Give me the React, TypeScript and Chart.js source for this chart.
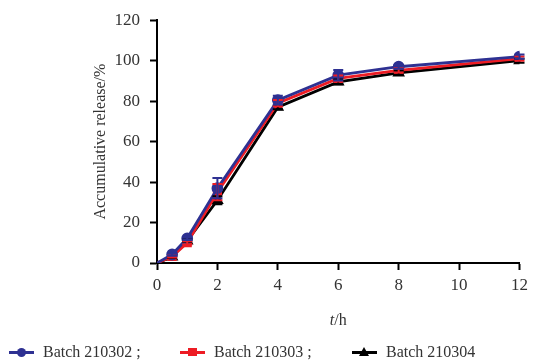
import React, { useEffect, useRef } from "react";
import { Chart, registerables } from "chart.js";

Chart.register(...registerables);

const hours = [0, 0.5, 1, 2, 4, 6, 8, 12];
const batch210302 = [0, 4.2, 12.2, 37, 80.5, 92.8, 97, 102];
const batch210303 = [0, 3.2, 10, 35, 79, 91.2, 95.2, 101];
const batch210304 = [0, 3, 11, 31, 77, 89.5, 94, 100];
const err210302 = [0, 0.6, 0.8, 5, 2.2, 2.6, 1, 1];
const err210303 = [0, 0.5, 0.8, 4, 1.5, 1.5, 1, 1];
const err210304 = [0, 0.5, 0.5, 2, 1, 1.2, 1, 1];
const xTicks = [0, 2, 4, 6, 8, 10, 12];
const yTicks = [0, 20, 40, 60, 80, 100, 120];
const seriesNames = ["Batch 210302 ;", "Batch 210303 ;", "Batch 210304"];

const BLUE = "#2e3192";
const RED = "#ed1c24";
const BLACK = "#000000";
const FONT = '"Liberation Serif", Tinos, "Times New Roman"';

const errorBarPlugin = {
  id: "errorBars",
  afterDatasetsDraw(chart: any) {
    const { ctx } = chart;
    const xs = chart.scales.x;
    const ys = chart.scales.y;
    const errs = [err210302, err210303, err210304];
    for (let d = chart.data.datasets.length - 1; d >= 0; d--) {
      const ds = chart.data.datasets[d];
      const e = errs[d];
      ctx.save();
      ctx.strokeStyle = ds.borderColor;
      ctx.lineWidth = 2;
      ds.data.forEach((p: any, i: number) => {
        if (!e[i]) return;
        const px = xs.getPixelForValue(p.x);
        const top = ys.getPixelForValue(p.y + e[i]);
        const bot = ys.getPixelForValue(p.y - e[i]);
        ctx.beginPath();
        ctx.moveTo(px, top);
        ctx.lineTo(px, bot);
        ctx.moveTo(px - 5, top);
        ctx.lineTo(px + 5, top);
        ctx.moveTo(px - 5, bot);
        ctx.lineTo(px + 5, bot);
        ctx.stroke();
      });
      ctx.restore();
    }
  },
};

const titlesPlugin = {
  id: "titles",
  afterDraw(chart: any) {
    const { ctx, chartArea } = chart;
    const cx = (chartArea.left + chartArea.right) / 2;
    const y = 321;
    ctx.save();
    ctx.fillStyle = "#333";
    ctx.textBaseline = "middle";
    ctx.font = `italic 16px ${FONT}`;
    const tW = ctx.measureText("t").width;
    ctx.font = `16px ${FONT}`;
    const rW = ctx.measureText("/h").width;
    const start = cx - (tW + rW) / 2;
    ctx.font = `italic 16px ${FONT}`;
    ctx.textAlign = "left";
    ctx.fillText("t", start, y);
    ctx.font = `16px ${FONT}`;
    ctx.fillText("/h", start + tW, y);
    ctx.translate(101, (chartArea.top + chartArea.bottom) / 2);
    ctx.rotate(-Math.PI / 2);
    ctx.textAlign = "center";
    ctx.fillText("Accumulative release/%", 0, 0);
    ctx.restore();
  },
};

function makeData(ys: number[]) {
  return hours.map((h, i) => ({ x: h, y: ys[i] }));
}

function Marker({ color, shape }: { color: string; shape: string }) {
  let m: any;
  if (shape === "circle") {
    m = <span style={{ position: "absolute", left: 8, top: 2, width: 9, height: 9, borderRadius: "50%", background: color }} />;
  } else if (shape === "rect") {
    m = <span style={{ position: "absolute", left: 8, top: 2.5, width: 9, height: 8, background: color }} />;
  } else {
    m = (
      <span
        style={{
          position: "absolute",
          left: 7,
          top: 1,
          width: 0,
          height: 0,
          borderLeft: "5.5px solid transparent",
          borderRight: "5.5px solid transparent",
          borderBottom: `9px solid ${color}`,
        }}
      />
    );
  }
  return (
    <span style={{ position: "relative", display: "inline-block", width: 25, height: 13 }}>
      <span style={{ position: "absolute", left: 0, top: 5.5, width: 25, height: 2.5, background: color }} />
      {m}
    </span>
  );
}

export default function App() {
  const ref = useRef<HTMLCanvasElement>(null);
  useEffect(() => {
    document.body.style.margin = "0";
    const common = {
      borderWidth: 2.8,
      pointRadius: [0, 4.5, 4.5, 4.5, 4.5, 4.5, 4.5, 4.5],
      pointHoverRadius: 4.5,
      tension: 0,
    };
    const chart = new Chart(ref.current as HTMLCanvasElement, {
      type: "line",
      data: {
        datasets: [
          { ...common, label: seriesNames[0], data: makeData(batch210302), borderColor: BLUE, backgroundColor: BLUE, pointStyle: "circle" },
          { ...common, label: seriesNames[1], data: makeData(batch210303), borderColor: RED, backgroundColor: RED, pointStyle: "rect" },
          { ...common, label: seriesNames[2], data: makeData(batch210304), borderColor: BLACK, backgroundColor: BLACK, pointStyle: "triangle" },
        ],
      },
      options: {
        animation: false,
        responsive: false,
        layout: { padding: { left: 0, top: 16, right: 10, bottom: 0 } },
        plugins: { legend: { display: false }, tooltip: { enabled: false } },
        scales: {
          x: {
            type: "linear",
            min: 0,
            max: 12,
            afterBuildTicks: (s: any) => {
              s.ticks = xTicks.map((v) => ({ value: v }));
            },
            afterFit: (s: any) => {
              s.height = 101;
            },
            grid: { display: true, drawOnChartArea: false, tickLength: 7, tickWidth: 2, tickColor: "#000" },
            border: { display: true, color: "#000", width: 2 },
            ticks: { color: "#333", font: { family: FONT, size: 17 }, padding: 5, maxRotation: 0 },
          },
          y: {
            min: 0,
            max: 120,
            afterBuildTicks: (s: any) => {
              s.ticks = yTicks.map((v) => ({ value: v }));
            },
            afterFit: (s: any) => {
              s.width = 157;
            },
            grid: { display: true, drawOnChartArea: false, tickLength: 7, tickWidth: 2, tickColor: "#000" },
            border: { display: true, color: "#000", width: 2 },
            ticks: { color: "#333", font: { family: FONT, size: 17 }, padding: 10 },
          },
        },
      },
      plugins: [errorBarPlugin, titlesPlugin],
    } as any);
    let alive = true;
    const fonts: any = (document as any).fonts;
    if (fonts && fonts.load) {
      Promise.all([
        fonts.load('16px "Liberation Serif"'),
        fonts.load('italic 16px "Liberation Serif"'),
      ]).then(() => {
        if (alive) chart.update();
      });
    }
    return () => {
      alive = false;
      chart.destroy();
    };
  }, []);

  const legend = [
    { color: BLUE, shape: "circle", left: 9, name: seriesNames[0] },
    { color: RED, shape: "rect", left: 180, name: seriesNames[1] },
    { color: BLACK, shape: "triangle", left: 352, name: seriesNames[2] },
  ];

  return (
    <div style={{ position: "absolute", left: 0, top: 0, width: 533, height: 364 }}>
      <canvas ref={ref} width={533} height={364} style={{ position: "absolute", left: 0, top: 0 }} />
      {legend.map((l) => (
        <div
          key={l.name}
          style={{
            position: "absolute",
            left: l.left,
            top: 343,
            display: "flex",
            alignItems: "center",
            fontFamily: FONT,
            fontSize: 16,
            color: "#333",
            whiteSpace: "nowrap",
          }}
        >
          <Marker color={l.color} shape={l.shape} />
          <span style={{ marginLeft: 9 }}>{l.name}</span>
        </div>
      ))}
    </div>
  );
}
